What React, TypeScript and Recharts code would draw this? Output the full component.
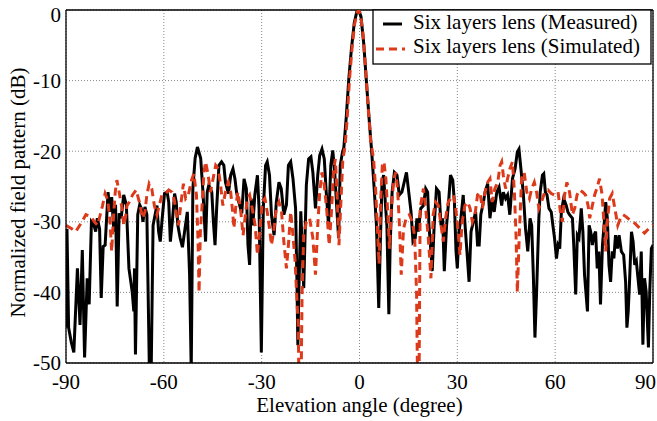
import {
  CartesianGrid,
  Legend,
  Line,
  LineChart,
  ReferenceLine,
  XAxis,
  YAxis,
} from "recharts";

const xTicks = [-90, -60, -30, 0, 30, 60, 90];
const yTicks = [0, -10, -20, -30, -40, -50];

// [elevation angle (deg), normalized pattern (dB)]
const measured: [number, number][] = [
  [-90, -45], [-89.7, -31], [-89.2, -45], [-88.4, -47], [-87.6, -48.5], [-86.5, -36.6],
  [-85.7, -44.6], [-85.0, -34], [-84.3, -49.2], [-83.5, -38], [-82.9, -41.7], [-82.2, -30],
  [-81.4, -30.5], [-80.9, -31.4], [-80.4, -29.5], [-79.7, -31], [-79.2, -40.8], [-78.6, -33.5],
  [-78.0, -33.3], [-77.1, -25.8], [-76.6, -28.6], [-76.0, -26.5], [-75.3, -31.4], [-74.8, -27.6],
  [-74.3, -42], [-73.7, -28.8], [-73.1, -29.5], [-72.3, -26.2], [-71.5, -27.6], [-70.7, -36.6],
  [-69.7, -39.9], [-69.2, -42.7], [-69.0, -36.6], [-68.7, -48.8], [-68.0, -29], [-67.4, -27.6],
  [-66.9, -28.1], [-66.4, -30], [-65.8, -27.9], [-65.2, -29], [-64.4, -52], [-63.9, -52],
  [-63.3, -30.5], [-62.6, -28.8], [-62.1, -27.7], [-61.6, -31.4], [-61.1, -32.8], [-60.5, -29.5],
  [-59.8, -26], [-59.0, -25.8], [-58.5, -27.2], [-58.0, -32.8], [-57.4, -30], [-56.7, -26],
  [-56.2, -27.2], [-55.7, -30.5], [-55.0, -32.3], [-54.3, -33.6], [-52.8, -28.6], [-52.1, -37.5],
  [-51.6, -51], [-51.1, -25.3], [-50.4, -21], [-49.7, -19.4], [-48.7, -21], [-48.0, -25.8],
  [-47.2, -32.8], [-46.7, -25.8], [-46.2, -24.8], [-45.3, -25.8], [-44.8, -30], [-44.3, -33.3],
  [-43.8, -28.1], [-43.1, -22], [-42.3, -21.5], [-41.6, -22], [-41.1, -24.4], [-40.2, -26],
  [-39.5, -23.4], [-38.8, -22.5], [-38.2, -23.9], [-37.7, -25.8], [-37.0, -27.2], [-36.1, -28.8],
  [-35.4, -23.9], [-34.7, -25.3], [-34.2, -33.3], [-33.7, -36.1], [-33.2, -26.7], [-32.7, -30.5],
  [-32.1, -26.2], [-31.3, -23.4], [-30.8, -28.1], [-30.1, -48.5], [-29.5, -28.1], [-28.8, -22],
  [-28.3, -21.5], [-27.6, -23.4], [-27.0, -29], [-26.2, -31.9], [-25.5, -27.2], [-24.7, -24.4],
  [-24.0, -25.3], [-23.2, -29], [-22.4, -27.6], [-21.8, -22], [-21.1, -21.5], [-20.4, -23.9],
  [-19.6, -28.1], [-19.2, -38], [-18.9, -47.5], [-18.6, -40], [-18.0, -28.5], [-17.1, -39.4],
  [-16.3, -24.8], [-15.6, -21.1], [-14.9, -20.8], [-14.3, -23], [-13.5, -28.1], [-12.8, -23.4],
  [-12.2, -20.6], [-11.5, -19.7], [-10.8, -21.1], [-10.2, -25.8], [-9.5, -30.5], [-8.8, -22],
  [-8.2, -19.9], [-7.6, -23], [-6.9, -28.6], [-6.4, -32.3], [-5.9, -22], [-5.2, -20.1],
  [-4.8, -19.5], [-4.05, -15.1], [-3.3, -9.9], [-2.5, -5.6], [-1.6, -1.8], [-0.8, -0.2],
  [-0.3, 0], [0.45, -0.9], [1.27, -4.6], [2.08, -9.9], [2.9, -15.1], [3.8, -20.5],
  [4.5, -25.3], [5.2, -30.5], [5.9, -42.2], [6.4, -32.8], [6.9, -24.4], [7.4, -23.4],
  [7.9, -27.2], [8.4, -30.5], [9.0, -43.1], [9.4, -33.3], [10.0, -25.8], [10.7, -23],
  [11.5, -23.4], [12.2, -26.2], [13.0, -25.8], [13.7, -24.4], [14.4, -23], [15.1, -25.8],
  [15.8, -28.6], [16.4, -32.8], [17.1, -32.3], [17.6, -29.5], [18.0, -31.4], [18.8, -28.1],
  [19.6, -27.7], [20.3, -25.3], [20.9, -25.8], [21.3, -30.5], [21.9, -34.2], [22.3, -37],
  [22.9, -30.5], [23.6, -25.3], [24.4, -25.8], [25.0, -30.5], [25.5, -29.5], [26.0, -37],
  [26.7, -30.5], [27.4, -26.7], [27.9, -23.4], [28.6, -24.1], [29.1, -27.2], [29.6, -34.2],
  [30.0, -36.6], [30.5, -31.4], [31.1, -29.5], [31.8, -26.2], [32.3, -30], [33.1, -35.2],
  [33.6, -38.5], [34.2, -31.4], [34.9, -30], [35.6, -28.6], [36.2, -33.3], [36.7, -33.3],
  [37.2, -29], [38.0, -27.2], [38.5, -25.8], [39.3, -24.6], [40.0, -29.5], [40.7, -26.7],
  [41.3, -28.6], [42.1, -25.8], [42.8, -25.1], [43.6, -27.7], [44.1, -25.8], [44.8, -26.7],
  [45.4, -26.2], [46.1, -29], [46.9, -23.9], [47.7, -22.5], [48.4, -20.1], [48.9, -19.7],
  [49.5, -22.5], [50.2, -25.8], [50.9, -30.9], [51.6, -34.2], [52.3, -29.5], [52.8, -30.5],
  [53.3, -37.5], [53.8, -46.4], [54.3, -40], [55.0, -29.5], [55.4, -25.8], [56.1, -23.4],
  [56.5, -23.2], [57.0, -25.8], [57.5, -26.2], [58.1, -28.1], [58.8, -28.6], [59.3, -30.5],
  [59.8, -32.3], [60.4, -35.2], [60.9, -33.3], [61.4, -33.8], [61.9, -28.6], [62.6, -26.7],
  [63.4, -27.7], [63.9, -28.6], [64.4, -29], [65.3, -29.5], [65.7, -33.3], [66.3, -40.3],
  [66.8, -31.9], [67.3, -32.3], [68.0, -28.1], [68.5, -31.4], [69.0, -37.5], [69.9, -42.7],
  [70.4, -30.5], [70.9, -31.4], [71.4, -33.3], [71.9, -31.9], [72.4, -31.4], [72.9, -36.6],
  [73.4, -34.2], [73.9, -41.7], [74.5, -33.3], [75.0, -30.5], [75.5, -27.2], [76.0, -29.5],
  [76.5, -36.1], [77.0, -38.5], [77.5, -34.2], [78.0, -35.2], [78.5, -31.9], [79.1, -33.8],
  [79.6, -31.9], [80.3, -34.2], [81.0, -34.7], [81.6, -38.5], [82.0, -45], [82.4, -42.7],
  [82.8, -38.5], [83.4, -31.4], [83.9, -32.8], [84.4, -36.1], [84.9, -35.6], [85.4, -38],
  [85.9, -40.3], [86.4, -34.2], [86.9, -47.4], [87.4, -38], [87.9, -39.9], [88.6, -47.8],
  [89.0, -39.9], [89.5, -33.8], [90, -33.3],
];

const simulated: [number, number][] = [
  [-90, -30.5], [-88.5, -30.9], [-87, -31.4], [-85.4, -30.2], [-83.9, -29], [-82.3, -29.3],
  [-81.3, -30], [-80.3, -30.5], [-79.5, -29], [-78.8, -27.7], [-78.0, -26], [-77.2, -26.9],
  [-76.5, -30], [-76.0, -34.2], [-75.4, -29], [-74.9, -25.8], [-74.4, -24.1], [-73.7, -25.8],
  [-72.9, -27.9], [-72.3, -30.5], [-71.8, -29.5], [-71.3, -27.7], [-70.6, -27.2], [-69.6, -26.2],
  [-68.5, -25.5], [-67.5, -27.2], [-66.5, -29.5], [-65.8, -28.6], [-65.2, -26.2], [-64.5, -24.6],
  [-63.7, -25.3], [-62.9, -27.7], [-62.1, -29], [-61.4, -27.7], [-60.6, -26.2], [-59.5, -26],
  [-58.5, -25.5], [-57.5, -25.8], [-56.8, -26.9], [-56.1, -29], [-55.5, -30.5], [-54.7, -27.2],
  [-54.0, -24.6], [-53.3, -26.7], [-52.5, -26.2], [-51.5, -24.1], [-50.8, -23.2], [-50.0, -26.2],
  [-49.5, -32.8], [-49.2, -40], [-48.8, -31.4], [-48.2, -27.2], [-47.7, -23], [-47.2, -21.5],
  [-46.4, -23.4], [-45.7, -25.8], [-44.9, -23.9], [-44.1, -22], [-43.3, -22.5], [-42.6, -24.8],
  [-41.9, -27.7], [-41.1, -25.8], [-40.2, -24.4], [-39.5, -25.8], [-39.0, -28.1], [-38.5, -30.9],
  [-38.0, -28.1], [-37.3, -25.8], [-36.5, -28.1], [-35.7, -31.9], [-35.1, -29.5], [-34.4, -26.7],
  [-33.7, -26.2], [-32.9, -28.1], [-32.0, -30.5], [-31.3, -34.7], [-30.6, -31.4], [-29.8, -27.2],
  [-29.0, -26.7], [-28.3, -28.6], [-27.6, -30.9], [-27.0, -33.3], [-26.2, -30.9], [-25.5, -28.1],
  [-24.7, -27.2], [-23.9, -28.6], [-23.2, -32.8], [-22.4, -36.6], [-21.8, -33.3], [-21.1, -28.6],
  [-20.4, -31.9], [-19.8, -35.2], [-19.3, -39.9], [-18.8, -44.6], [-18.2, -65], [-17.6, -39.9],
  [-17.1, -31.9], [-16.3, -30], [-15.3, -29.5], [-14.3, -32.3], [-13.5, -37.5], [-12.8, -30.5],
  [-12.2, -25.8], [-11.5, -23], [-10.8, -24.8], [-10.0, -28.6], [-9.3, -33.3], [-8.6, -28.6],
  [-7.9, -22.5], [-7.4, -21.1], [-6.9, -25.8], [-6.3, -33.3], [-5.7, -27.2], [-5.1, -21.1],
  [-4.4, -19.2], [-3.8, -15.5], [-3.1, -10], [-2.3, -5.5], [-1.5, -2], [-0.7, -0.3],
  [-0.3, 0], [0.3, -0.5], [1.1, -3.5], [1.9, -8.5], [2.7, -14], [3.4, -18.5],
  [4.3, -21], [4.9, -25], [5.5, -31], [6.0, -36], [6.5, -27], [7.0, -22],
  [7.5, -21.5], [8.1, -24], [8.7, -29], [9.2, -33.8], [9.8, -28], [10.5, -24],
  [11.1, -23], [11.7, -25.5], [12.3, -31], [12.8, -37.5], [13.5, -31], [14.3, -29.5],
  [15.3, -29], [16.2, -30], [16.9, -32], [17.5, -40], [18.1, -65], [18.6, -28.1],
  [19.6, -25.3], [20.3, -28.1], [21.1, -32.3], [21.9, -38], [22.6, -29], [23.3, -27.2],
  [24.2, -27.7], [25.0, -30.5], [25.7, -32.8], [26.4, -29.5], [27.2, -27.2], [28.0, -26.7],
  [28.8, -26.2], [29.5, -28.1], [30.1, -30.5], [30.8, -34.7], [31.5, -30], [32.3, -27.7],
  [33.2, -27.2], [33.9, -28.1], [34.6, -30], [35.4, -29], [36.2, -26.2], [36.9, -25.8],
  [37.7, -28.1], [38.5, -25.8], [39.3, -24.4], [40.0, -23.9], [40.7, -27.2], [41.5, -25.3],
  [42.4, -24.4], [43.1, -22], [43.6, -21.5], [44.1, -23.4], [44.8, -25.3], [45.4, -23.9],
  [46.1, -22.5], [46.9, -21.5], [47.5, -25.8], [48.0, -31.9], [48.4, -40], [49.0, -31.9],
  [49.7, -23.9], [50.5, -23], [51.3, -25.8], [52.1, -26.7], [52.8, -25.3], [53.6, -24.4],
  [54.3, -25.8], [55.0, -28.1], [55.8, -27.2], [56.8, -25.8], [57.8, -25.5], [58.8, -26],
  [59.8, -26.2], [60.9, -25.8], [61.6, -28.6], [62.2, -30], [62.9, -26.2], [63.6, -24.4],
  [64.4, -25.8], [65.3, -29], [66.0, -28.1], [66.7, -26.2], [67.5, -25.5], [68.5, -25.8],
  [69.3, -26.2], [70.1, -27.7], [70.6, -29.5], [71.4, -27.7], [72.1, -26.2], [72.9, -25.1],
  [73.6, -23.9], [74.4, -26.2], [75.0, -30.5], [75.5, -34.2], [76.0, -30], [76.7, -26.7],
  [77.5, -26], [78.3, -28.1], [79.2, -30.5], [80.0, -29.5], [80.8, -29], [81.8, -29.3],
  [83.0, -29.8], [84.4, -30.2], [85.9, -30.9], [87.4, -31.6], [88.8, -30.9], [90, -30.5],
];

const measuredData = measured.map(([angle, db]) => ({ angle, db }));
const simulatedData = simulated.map(([angle, db]) => ({ angle, db }));

const FONT = '"Liberation Serif", "Times New Roman", serif';
const RED = "#dc3a1a";
const DASH = "8 5";

// last x label is pulled inside the figure, top y label pushed down (as in the original)
function XTick({ x, y, payload }: any) {
  const last = payload.value === xTicks[xTicks.length - 1];
  return (
    <text
      x={last ? x + 3 : x}
      y={y}
      dy="0.71em"
      textAnchor={last ? "end" : "middle"}
      fontFamily={FONT}
      fontSize={21}
      fill="#000"
    >
      {payload.value}
    </text>
  );
}

function YTick({ x, y, payload }: any) {
  const top = payload.value === yTicks[0];
  return (
    <text
      x={x}
      y={top ? y + 5 : y}
      dy="0.355em"
      textAnchor="end"
      fontFamily={FONT}
      fontSize={21}
      fill="#000"
    >
      {payload.value}
    </text>
  );
}

function YTitle(props: any) {
  const vb = props.viewBox || { x: 21, y: 10, width: 45, height: 353 };
  const cx = vb.x - 3;
  const cy = vb.y + vb.height / 2 + 6;
  return (
    <text
      x={cx}
      y={cy}
      transform={`rotate(-90 ${cx} ${cy})`}
      textAnchor="middle"
      dominantBaseline="central"
      fontFamily={FONT}
      fontSize={21}
      fill="#000"
    >
      Normalized field pattern (dB)
    </text>
  );
}

function XTitle(props: any) {
  const vb = props.viewBox || { x: 66, y: 363, width: 587, height: 40 };
  return (
    <text
      x={vb.x + vb.width / 2}
      y={vb.y + 49}
      textAnchor="middle"
      fontFamily={FONT}
      fontSize={21}
      fill="#000"
    >
      Elevation angle (degree)
    </text>
  );
}

function LegendBox({ payload }: any) {
  const items = payload || [];
  return (
    <svg width={280} height={56} style={{ display: "block" }}>
      <rect x={1} y={1} width={278} height={54} fill="#fff" stroke="#000" strokeWidth={1.3} />
      {items.map((entry: any, i: number) => {
        const dashed = i === 1;
        const y = 15 + i * 25;
        return (
          <g key={entry.value}>
            <line
              x1={dashed ? 4 : 11}
              x2={dashed ? 33 : 30}
              y1={y}
              y2={y}
              stroke={entry.color}
              strokeWidth={3}
              strokeDasharray={dashed ? DASH : undefined}
            />
            <text x={41} y={y + 5 + (dashed ? -1 : 0)} fontFamily={FONT} fontSize={21} fill="#000">
              {entry.value}
            </text>
          </g>
        );
      })}
    </svg>
  );
}

export default function App() {
  return (
    <div
      style={{
        position: "absolute",
        left: 0,
        top: 0,
        width: 657,
        height: 421,
        background: "#fff",
      }}
    >
      <LineChart
        width={657}
        height={421}
        margin={{ top: 10, right: 4, bottom: 18, left: 21 }}
      >
        <CartesianGrid stroke="#888" strokeDasharray="1 2" strokeWidth={1} />
        <XAxis
          type="number"
          dataKey="angle"
          domain={[-90, 90]}
          ticks={xTicks}
          interval={0}
          allowDataOverflow
          height={40}
          tickLine={false}
          tickSize={9}
          tickMargin={2}
          axisLine={{ stroke: "#000", strokeWidth: 1.3 }}
          tick={<XTick />}
          label={<XTitle />}
        />
        <YAxis
          type="number"
          domain={[-50, 0]}
          ticks={yTicks}
          interval={0}
          allowDataOverflow
          width={45}
          tickLine={false}
          tickSize={2}
          tickMargin={3}
          axisLine={{ stroke: "#000", strokeWidth: 1.3 }}
          tick={<YTick />}
          label={<YTitle />}
        />
        <ReferenceLine y={0} stroke="#000" strokeWidth={1.3} />
        <ReferenceLine x={90} stroke="#000" strokeWidth={1.3} />
        <Legend
          layout="horizontal"
          verticalAlign="middle"
          align="center"
          content={<LegendBox />}
          wrapperStyle={{ left: 372, top: 9, width: 280, height: 56 }}
        />
        <Line
          data={measuredData}
          dataKey="db"
          name="Six layers lens (Measured)"
          stroke="#000"
          strokeWidth={3}
          dot={false}
          isAnimationActive={false}
        />
        <Line
          data={simulatedData}
          dataKey="db"
          name="Six layers lens (Simulated)"
          stroke={RED}
          strokeWidth={3}
          strokeDasharray={DASH}
          dot={false}
          isAnimationActive={false}
        />
      </LineChart>
    </div>
  );
}
